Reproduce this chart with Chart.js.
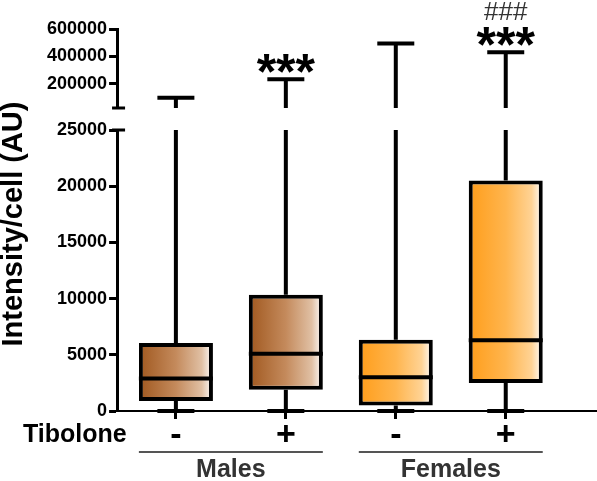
<!DOCTYPE html>
<html>
<head>
<meta charset="utf-8">
<script src="https://cdn.jsdelivr.net/npm/chart.js@4"></script>
<style>
  html, body { margin: 0; padding: 0; background: #fff; overflow: hidden; }
  #wrap { width: 597px; height: 481px; }
</style>
</head>
<body>
<div id="wrap"><canvas id="chart"></canvas></div>
<script>
// box plot data
const categories = ['-', '+', '-', '+'];
const categoryPos = [1, 2, 3, 4];
const groupOf = [0, 0, 1, 1];
const groups = ['Males', 'Females'];
const whiskerMin = [0, 0, 0, 0];
const q1 = [900, 1900, 500, 2500];
const medians = [2900, 5100, 3000, 6300];
const q3 = [6050, 10350, 6350, 20500];
const whiskerMax = [100000, 235000, 495000, 430000];
const stars = ['', '***', '', '***'];
const hashes = ['', '', '', '###'];

// tick labels of the broken y axis
const lowerTicks = [0, 5000, 10000, 15000, 20000, 25000];
const upperTicks = [200000, 400000, 600000];

const FONT = "'Liberation Sans', Arial, sans-serif";
const barPct = 0.673;

// gradient stops per group (left -> right)
const groupColors = [
  ['#a0581f', '#c48a5c', '#e0c0a4', '#ffffff'],
  ['#ff9d1a', '#ffb54e', '#ffd395', '#ffffff'],
];

function boxGradient(c) {
  const chart = c.chart;
  if (!chart.chartArea) return null;
  const xs = chart.scales.x;
  const i = c.dataIndex;
  const step = xs.getPixelForValue(2) - xs.getPixelForValue(1);
  const cx = xs.getPixelForValue(categoryPos[i]);
  const half = step * barPct / 2;
  const g = chart.ctx.createLinearGradient(cx - half, 0, cx + half, 0);
  const cols = groupColors[groupOf[i]];
  g.addColorStop(0, cols[0]);
  g.addColorStop(0.5, cols[1]);
  g.addColorStop(0.85, cols[2]);
  g.addColorStop(1, cols[3]);
  return g;
}

const boxPlot = {
  id: 'boxPlot',
  afterDraw(chart) {
    const ctx = chart.ctx;
    const meta = chart.getDatasetMeta(0);
    const yb = chart.scales.y;
    const yt = chart.scales.yTop;
    const area = chart.chartArea;

    ctx.save();
    ctx.lineCap = 'butt';

    meta.data.forEach((bar, i) => {
      const x = bar.x;
      const w = bar.width;
      ctx.strokeStyle = '#000';
      ctx.lineWidth = 4;
      ctx.beginPath();
      // lower whisker + cap
      ctx.moveTo(x, yb.getPixelForValue(q1[i]));
      ctx.lineTo(x, yb.getPixelForValue(whiskerMin[i]));
      ctx.moveTo(x - w / 4, yb.getPixelForValue(whiskerMin[i]));
      ctx.lineTo(x + w / 4, yb.getPixelForValue(whiskerMin[i]));
      // upper whisker, lower segment
      ctx.moveTo(x, yb.getPixelForValue(q3[i]));
      ctx.lineTo(x, yb.getPixelForValue(Math.min(whiskerMax[i], yb.max)));
      // upper segment + cap
      if (whiskerMax[i] > yb.max) {
        const top = yt.getPixelForValue(whiskerMax[i]);
        ctx.moveTo(x, yt.getPixelForValue(yt.min));
        ctx.lineTo(x, top);
        ctx.moveTo(x - w / 4, top);
        ctx.lineTo(x + w / 4, top);
      }
      // median
      ctx.moveTo(x - w / 2, yb.getPixelForValue(medians[i]));
      ctx.lineTo(x + w / 2, yb.getPixelForValue(medians[i]));
      ctx.stroke();

      // significance marks
      const capY = yt.getPixelForValue(whiskerMax[i]);
      ctx.textAlign = 'center';
      if (stars[i]) {
        ctx.fillStyle = '#000';
        ctx.textBaseline = 'alphabetic';
        ctx.font = 'bold 50px ' + FONT;
        ctx.fillText(stars[i], x, capY + 10);
      }
      if (hashes[i]) {
        ctx.fillStyle = '#333';
        ctx.font = '26px ' + FONT;
        ctx.textBaseline = 'middle';
        ctx.fillText(hashes[i], x, capY - 40);
      }
    });

    // axis break caps
    ctx.strokeStyle = '#000';
    ctx.lineWidth = 3;
    ctx.beginPath();
    ctx.moveTo(area.left - 5, yt.bottom);
    ctx.lineTo(area.left + 8, yt.bottom);
    ctx.moveTo(area.left - 5, yb.top);
    ctx.lineTo(area.left + 8, yb.top);
    ctx.stroke();

    // group lines and labels
    const xs = chart.scales.x;
    groups.forEach((name, g) => {
      const idx = groupOf.map((v, i) => v === g ? i : -1).filter(i => i >= 0);
      const first = meta.data[idx[0]];
      const last = meta.data[idx[idx.length - 1]];
      const left = first.x - first.width / 2;
      const right = last.x + last.width / 2;
      ctx.strokeStyle = '#555';
      ctx.lineWidth = 2;
      ctx.beginPath();
      ctx.moveTo(left, xs.bottom - 1);
      ctx.lineTo(right, xs.bottom - 1);
      ctx.stroke();
      ctx.fillStyle = '#333';
      ctx.font = 'bold 25px ' + FONT;
      ctx.textAlign = 'center';
      ctx.textBaseline = 'middle';
      ctx.fillText(name, (left + right) / 2, xs.bottom + 17);
    });

    // "Tibolone" row label
    ctx.fillStyle = '#000';
    ctx.font = 'bold 25px ' + FONT;
    ctx.textAlign = 'left';
    ctx.textBaseline = 'middle';
    ctx.fillText('Tibolone', 23, area.bottom + 24);

    // y axis title spanning both axis parts
    ctx.save();
    ctx.translate(14, (area.top + area.bottom) / 2 + 4);
    ctx.rotate(-Math.PI / 2);
    ctx.font = 'bold 29px ' + FONT;
    ctx.textAlign = 'center';
    ctx.textBaseline = 'middle';
    ctx.fillText('Intensity/cell (AU)', 0, 0);
    ctx.restore();

    ctx.restore();
  },
};

const axisGrid = {
  drawOnChartArea: false,
  color: '#000',
  tickLength: 8,
  tickWidth: 3,
  offset: false,
};

const yTickFont = { family: FONT, size: 18, weight: 'bold' };

new Chart(document.getElementById('chart'), {
  type: 'bar',
  data: {
    datasets: [{
      data: categoryPos.map((p, i) => ({ x: p, y: [q1[i], q3[i]] })),
      backgroundColor: boxGradient,
      borderColor: '#000',
      borderWidth: 4,
      borderSkipped: false,
      categoryPercentage: 1,
      barPercentage: barPct,
      yAxisID: 'y',
    }],
  },
  options: {
    responsive: true,
    maintainAspectRatio: false,
    animation: false,
    layout: { padding: { top: 29, left: 45, right: 0, bottom: 28 } },
    plugins: { legend: { display: false }, tooltip: { enabled: false } },
    scales: {
      x: {
        type: 'linear',
        min: 0.465,
        max: 4.83,
        offset: false,
        afterBuildTicks: (s) => { s.ticks = categoryPos.map(v => ({ value: v })); },
        ticks: {
          callback: (v) => categories[categoryPos.indexOf(v)],
          color: '#000',
          font: { family: FONT, size: 34, weight: 'bold', lineHeight: 1 },
          padding: 0,
          maxRotation: 0,
          autoSkip: false,
        },
        grid: axisGrid,
        border: { color: '#000', width: 2 },
      },
      // stacked y parts are placed bottom-up in this order
      y: {
        type: 'linear',
        position: 'left',
        stack: 'broken',
        stackWeight: 281,
        min: 0,
        max: 25000,
        afterBuildTicks: (s) => { s.ticks = lowerTicks.map(v => ({ value: v })); },
        ticks: {
          callback: (v) => String(v),
          color: '#000',
          font: yTickFont,
          padding: 2,
          autoSkip: false,
        },
        grid: axisGrid,
        border: { color: '#000', width: 3 },
      },
      yGap: {
        type: 'linear',
        position: 'left',
        stack: 'broken',
        stackWeight: 22,
        ticks: { display: false },
        grid: { display: false },
        border: { display: false },
      },
      yTop: {
        type: 'linear',
        position: 'left',
        stack: 'broken',
        stackWeight: 79,
        min: 25000,
        max: 600000,
        afterBuildTicks: (s) => { s.ticks = upperTicks.map(v => ({ value: v })); },
        ticks: {
          callback: (v) => String(v),
          color: '#000',
          font: yTickFont,
          padding: 2,
          autoSkip: false,
        },
        grid: axisGrid,
        border: { color: '#000', width: 3 },
      },
    },
  },
  plugins: [boxPlot],
});
</script>
</body>
</html>
